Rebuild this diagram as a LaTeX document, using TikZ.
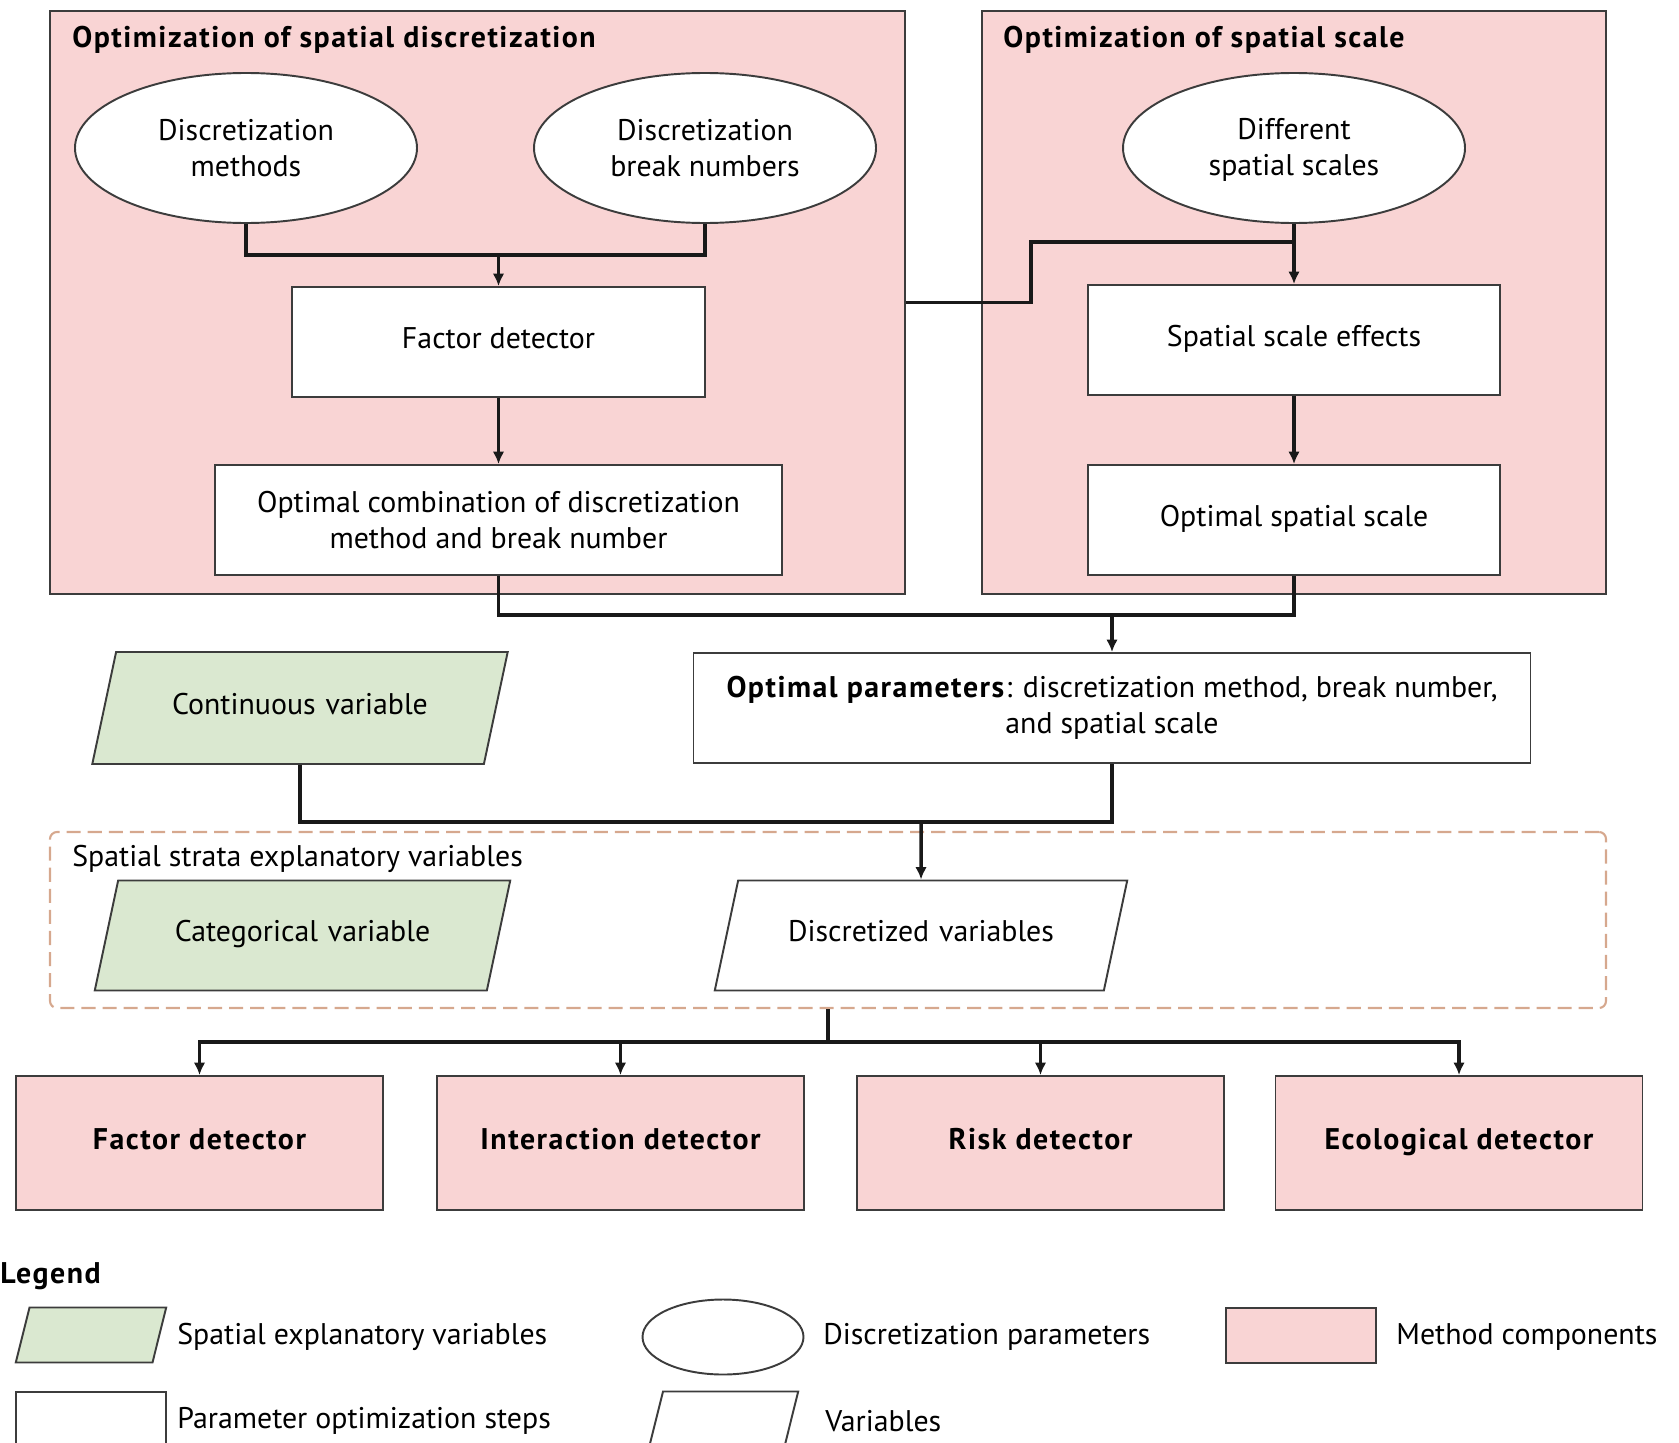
\documentclass[tikz,border=0pt]{standalone}
\usepackage{fontspec}
\setmainfont{PT Sans}[BoldFeatures={LetterSpace=5}]
\usetikzlibrary{shapes.geometric,arrows.meta}
\definecolor{compink}{RGB}{249,212,212}
\definecolor{vargreen}{RGB}{218,232,208}
\definecolor{strataorange}{RGB}{214,168,142}
\definecolor{edgegray}{RGB}{60,60,60}

\begin{document}
\begin{tikzpicture}[font=\fontsize{17}{20.5}\selectfont,
        panel/.style={draw=edgegray, line width=1.1pt, fill=compink, inner sep=0pt},
        box/.style={draw=edgegray, line width=1.1pt, fill=white, align=center, inner sep=2pt},
        oneline/.style={text height=0.44cm, text depth=0.2cm},
        param/.style={ellipse, draw=edgegray, line width=1.1pt, fill=white, align=center, inner sep=0pt, minimum width=6.84cm, minimum height=3cm},
        varbox/.style 2 args={trapezium, trapezium left angle=78, trapezium right angle=102, draw=edgegray, line width=1.1pt, align=center, oneline, inner xsep=0pt, text width=#1, inner ysep=#2},
        detector/.style={box, oneline, fill=compink, font=\fontsize{17}{20.5}\selectfont\bfseries, minimum width=7.34cm, minimum height=2.68cm},
        link/.style={line width=2pt, draw=black!90, >={Latex[length=7pt,width=6.5pt]}},
        lbl/.style={anchor=west, inner sep=0pt}]
    \useasboundingbox (0,0) rectangle (33.58,-28.84);
    \clip (0,0) rectangle (33.58,-28.84);
    % the two optimization panels
    \node[panel, minimum width=17.1cm, minimum height=11.66cm] (discpanel) at (9.55,-6.05) {};
    \node[panel, minimum width=12.48cm, minimum height=11.66cm] (scalepanel) at (25.88,-6.05) {};
    \node[lbl, font=\fontsize{17}{20.5}\selectfont\bfseries] (disctitle) at (1.44,-0.8) {Optimization of spatial discretization};
    \node[lbl, font=\fontsize{17}{20.5}\selectfont\bfseries] (scaletitle) at (20.06,-0.8) {Optimization of spatial scale};

    \node[param] (meth) at (4.92,-2.96) {Discretization\\methods};
    \node[param] (brk) at (14.1,-2.96) {Discretization\\break numbers};
    \node[param] (scales) at (25.88,-2.96) {Different\strut\\spatial scales};

    \node[box, oneline, minimum width=8.26cm, minimum height=2.2cm] (fdet) at (9.97,-6.84) {Factor detector};
    \node[box, minimum width=11.34cm, minimum height=2.2cm] (optcomb) at (9.97,-10.4) {Optimal combination of discretization\\method and break number};
    \node[box, oneline, minimum width=8.24cm, minimum height=2.2cm] (sse) at (25.88,-6.8) {Spatial scale effects};
    \node[box, oneline, minimum width=8.24cm, minimum height=2.2cm] (oss) at (25.88,-10.4) {Optimal spatial scale};
    \node[box, minimum width=16.74cm, minimum height=2.2cm] (optpar) at (22.24,-14.16) {\strut\textbf{Optimal parameters}: discretization method, break number,\\and spatial scale\strut};

    % strata
    \node[draw=strataorange, dash pattern=on 8pt off 4pt, rounded corners=4pt, line width=1.2pt, minimum width=31.12cm, minimum height=3.52cm, inner sep=0pt] (strata) at (16.56,-18.4) {};
    \node[lbl] (stratalbl) at (1.44,-17.18) {Spatial strata explanatory variables};

    \node[varbox={7.356cm}{0.80cm}, fill=vargreen] (cont) at (6.0,-14.16) {Continuous variable};
    \node[varbox={7.374cm}{0.78cm}, fill=vargreen] (cat) at (6.05,-18.71) {Categorical variable};
    \node[varbox={7.314cm}{0.78cm}, fill=white] (disc) at (18.42,-18.71) {Discretized variables};

    \node[detector] (det1) at (3.99,-22.86) {Factor detector};
    \node[detector] (det2) at (12.41,-22.86) {Interaction detector};
    \node[detector] (det3) at (20.81,-22.86) {Risk detector};
    \node[detector] (det4) at (29.18,-22.86) {Ecological detector};

    % connectors
    \coordinate (j1) at (9.97,-5.1);
    \draw[link] (meth.south) |- (j1) -| (brk.south);
    \draw[link,->] (j1) -- (fdet.north);
    \draw[link,->] (fdet.south) -- (optcomb.north);
    \coordinate (k1) at (20.62,-4.84);
    \draw[link] (discpanel.east) -| (k1) -- (scales.south |- k1);
    \draw[link,->] (scales.south) -- (sse.north);
    \draw[link,->] (sse.south) -- (oss.north);
    \coordinate (j2) at (22.24,-12.3);
    \draw[link] (optcomb.south) |- (j2) -| (oss.south);
    \draw[link,->] (j2) -- (optpar.north);
    \coordinate (j3) at (18.42,-16.44);
    \draw[link] (cont.south) |- (j3) -| (optpar.south);
    \draw[link,->] (j3) -- (disc.north);
    \coordinate (j4) at (16.56,-20.84);
    \draw[link] (strata.south) -- (j4);
    \foreach \d in {det1,det2,det3,det4}
        \draw[link,->] (j4) -| (\d.north);

    % legend
    \node[lbl, font=\fontsize{17}{20.5}\selectfont\bfseries] (legend) at (0,-25.52) {Legend};
    \node[varbox={2.46cm}{0.23cm}, fill=vargreen, trapezium left angle=76, trapezium right angle=104] (lgvar) at (1.82,-26.7) {};
    \node[lbl] (lgvartxt) at (3.54,-26.74) {Spatial explanatory variables};
    \node[param, minimum width=3.22cm, minimum height=1.5cm] (lgpar) at (14.46,-26.74) {};
    \node[lbl] (lgpartxt) at (16.46,-26.74) {Discretization parameters};
    \node[panel, minimum width=3cm, minimum height=1.1cm] (lgcomp) at (26.02,-26.71) {};
    \node[lbl] (lgcomptxt) at (27.92,-26.74) {Method components};
    \node[box, minimum width=3cm, minimum height=1.2cm] (lgstep) at (1.82,-28.44) {};
    \node[lbl] (lgsteptxt) at (3.54,-28.42) {Parameter optimization steps};
    \node[varbox={2.40cm}{0.29cm}, fill=white, trapezium left angle=76, trapezium right angle=104] (lgvars) at (14.46,-28.44) {};
    \node[lbl] (lgvarstxt) at (16.5,-28.42) {Variables};
\end{tikzpicture}
\end{document}
